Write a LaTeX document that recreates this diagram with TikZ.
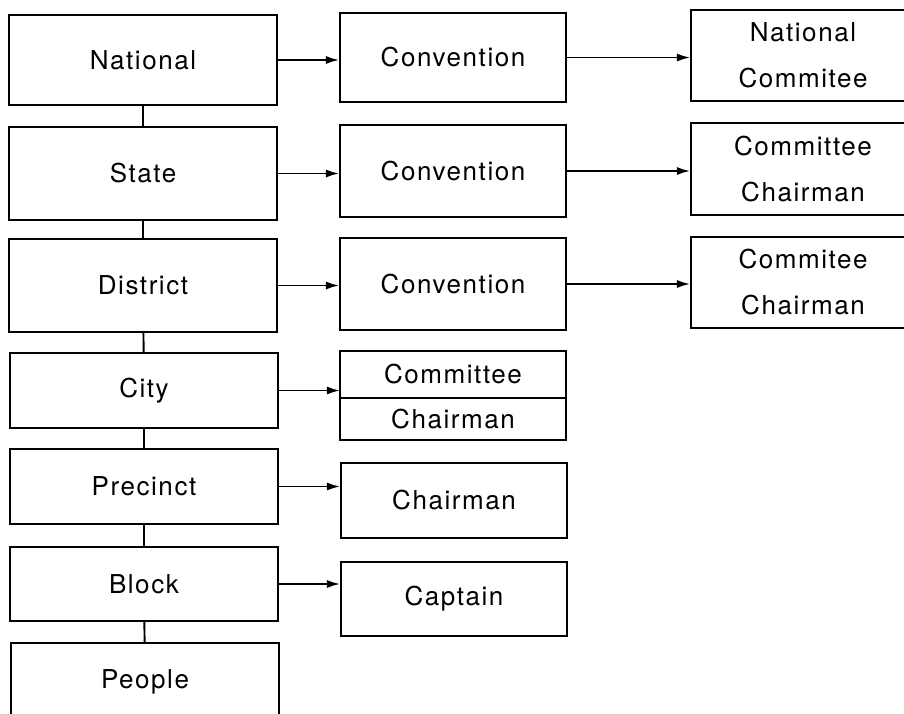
\documentclass[tikz,border=0pt]{standalone}
\usepackage{fontspec}
\setmainfont{TeX Gyre Heros}[LetterSpace=6]
\usetikzlibrary{arrows.meta}

\tikzset{
  box/.style={draw, line width=1.1pt, inner sep=0pt, align=center,
    font=\fontsize{14.8}{26.2}\selectfont},
  level/.style={box, minimum width=5.36cm},
  office/.style={box, minimum width=4.52cm},
  head/.style={box, minimum width=4.48cm},
  link/.style={line width=1.1pt},
  feed/.style={line width=1pt, -{Latex[length=7.5pt,width=4.6pt]}}
}

\begin{document}
\begin{tikzpicture}[x=0.02cm,y=-0.02cm]
  \useasboundingbox (0,0) rectangle (904,714);
  \clip (0,0) rectangle (904,714);

  % party levels, top to bottom
  \node[level, minimum height=1.8cm]  (national) at (143,60)    {National};
  \node[level, minimum height=1.86cm] (state)    at (143,173.5) {State};
  \node[level, minimum height=1.86cm] (district) at (143,285.5) {District};
  \node[level, minimum height=1.5cm]  (city)     at (144,390.5) {City};
  \node[level, minimum height=1.5cm]  (precinct) at (144,486.5) {Precinct};
  \node[level, minimum height=1.48cm] (block)    at (144,584)   {Block};
  \node[level, minimum height=1.56cm] (people)   at (145,682)   {People};

  % bodies of each level
  \node[office, minimum height=1.78cm] (conv1) at (453,57.5) {Convention};
  \node[office, minimum height=1.84cm] (conv2) at (453,171)  {Convention};
  \node[office, minimum height=1.84cm] (conv3) at (453,284)  {Convention};
  \node[office, minimum height=0.94cm, outer sep=0pt] (citycom) at (453,374.5) {Committee};
  \node[office, minimum height=0.84cm, outer sep=0pt, anchor=north] (citychair)
    at (citycom.south) {Chairman};
  \node[office, minimum height=1.5cm]  (prechair) at (454,500.5) {Chairman};
  \node[office, minimum height=1.48cm] (captain)  at (454,599)   {Captain};

  % heads on the right
  \node[head, minimum height=1.82cm] (natcom)   at (803,55.5)  {National\\Commitee};
  \node[head, minimum height=1.84cm] (statecom) at (803,169)   {Committee\\Chairman};
  \node[head, minimum height=1.82cm] (distcom)  at (803,282.5) {Commitee\\Chairman};

  \foreach \a/\b in {national/state, state/district, district/city,
                     city/precinct, precinct/block, block/people}
    \draw[link] (\a) -- (\b);

  \foreach \a/\b in {national/conv1, state/conv2, district/conv3,
                     city/citycom, precinct/prechair, block/captain,
                     conv1/natcom, conv2/statecom, conv3/distcom}
    \draw[feed] (\a.east) -- (\a.east -| \b.west);
\end{tikzpicture}
\end{document}
